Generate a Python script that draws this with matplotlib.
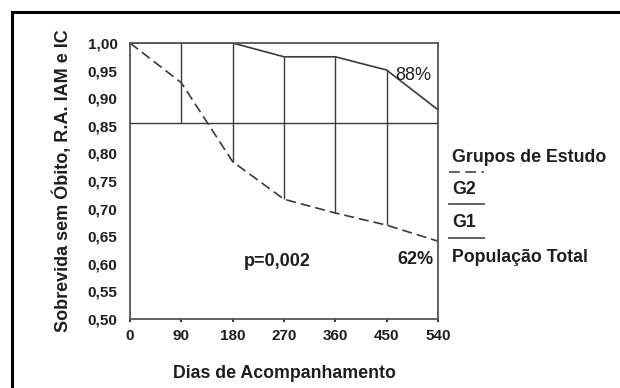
import matplotlib.pyplot as plt
import numpy as np
from matplotlib.lines import Line2D

plt.rcParams['font.family'] = ['Liberation Sans', 'DejaVu Sans']

# days of follow-up and survival curves
days = [0, 90, 180, 270, 360, 450, 540]
g1 = [1.00, 1.00, 1.00, 0.975, 0.975, 0.951, 0.879]   # solid
g2 = [1.00, 0.928, 0.785, 0.717, 0.692, 0.670, 0.641]  # dashed
total = 0.855                                         # horizontal line
ci_days = [90, 180, 270, 360, 450]

y_ticks = [0.50, 0.55, 0.60, 0.65, 0.70, 0.75, 0.80, 0.85, 0.90, 0.95, 1.00]
y_marks = [0.50, 0.60, 0.70, 0.80, 0.90]

line_col = '#3a3a3a'
text_col = '#1e1e1e'

fig = plt.figure(figsize=(6.2, 3.88), dpi=100)
ax = fig.add_axes([130 / 620, 69 / 388, 308 / 620, 276 / 388])

ax.plot(days, g1, color=line_col, lw=1.2)
ax.plot(days, g2, color=line_col, lw=1.2, dashes=(6, 3))
ax.axhline(total, color=line_col, lw=1.0)

# vertical bars between curves
idx = [days.index(d) for d in ci_days]
lower = np.minimum(np.array(g2)[idx], total)
upper = np.array(g1)[idx]
ax.vlines(ci_days, lower, upper, color=line_col, lw=1.0)

ax.set_xlim(0, 540)
ax.set_ylim(0.50, 1.00)
ax.set_xticks(days)
ax.set_xticklabels([str(d) for d in days], fontsize=11, fontweight='bold', color=text_col)
ax.set_yticks(y_ticks)
ax.set_yticklabels([f'{v:.2f}'.replace('.', ',') for v in y_ticks],
                   fontsize=11, fontweight='bold', color=text_col)
ax.tick_params(axis='y', length=0, pad=9)
ax.tick_params(axis='x', length=2, width=1.5, color=line_col, pad=5)
ax.set_yticks(y_marks, minor=True)
ax.tick_params(axis='y', which='minor', length=2.5, width=2.2, color='#111')

for s in ax.spines.values():
    s.set_color('#555555')
    s.set_linewidth(1.3)

ax.set_xlabel('Dias de Acompanhamento', fontsize=12.8, fontweight='bold', color=text_col, labelpad=16)
ax.set_ylabel('Sobrevida sem Óbito, R.A. IAM e IC', fontsize=13, fontweight='bold',
              color=text_col, labelpad=11)

ax.text(497, 0.942, '88%', fontsize=13, color=text_col, ha='center', va='center')
ax.text(500, 0.607, '62%', fontsize=13, fontweight='bold', color=text_col, ha='center', va='center')
ax.text(259, 0.605, 'p=0,002', fontsize=13, fontweight='bold', color=text_col, ha='center', va='center')

# legend-like labels on the right
lx = 452 / 620
for txt, yy in [('Grupos de Estudo', 157), ('G2', 190), ('G1', 223), ('População Total', 258)]:
    fig.text(lx, 1 - yy / 388, txt, fontsize=12.8, fontweight='bold', color=text_col, va='center')
fig.add_artist(Line2D([449 / 620, 484 / 620], [1 - 172 / 388] * 2, color='#555', lw=1.3, dashes=(6, 3)))
for yy in [204, 238]:
    fig.add_artist(Line2D([449 / 620, 484 / 620], [1 - yy / 388] * 2, color='#555', lw=1.3))

# outer frame (top and left edges)
fig.add_artist(Line2D([12 / 620, 1], [1 - 11.5 / 388] * 2, color='black', lw=2.2))
fig.add_artist(Line2D([12 / 620] * 2, [0, 1 - 11.5 / 388], color='black', lw=2.2))

fig.savefig('out.png', dpi=100)
